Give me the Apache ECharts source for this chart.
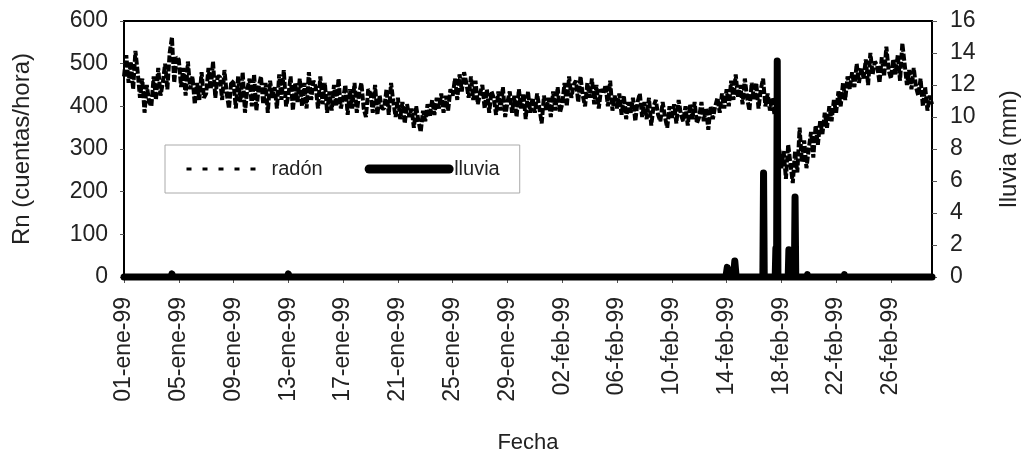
<!DOCTYPE html>
<html>
<head>
<meta charset="utf-8">
<title>Radón y lluvia</title>
<script src="https://cdn.jsdelivr.net/npm/echarts@6/dist/echarts.min.js"></script>
<style>
  html, body { margin: 0; padding: 0; background: #fff; }
  #chart { width: 1029px; height: 459px; }
</style>
</head>
<body>
<div id="chart"></div>
<script>
// radón (cuentas/hora), una lectura cada 4 horas desde 01-ene-99 (6 por fila = 1 día)
const radonStepDays = 1 / 6;
const radon = [
  470, 520, 455, 505, 440, 530,
  480, 420, 465, 385, 450, 410,
  400, 470, 415, 490, 425, 455,
  500, 440, 525, 562, 455, 515,
  510, 445, 490, 425, 505, 440,
  470, 405, 455, 415, 480, 420,
  430, 490, 440, 505, 420, 470,
  470, 415, 485, 430, 395, 460,
  455, 395, 470, 410, 480, 385,
  440, 465, 400, 475, 390, 445,
  470, 405, 455, 385, 460, 420,
  445, 395, 475, 415, 485, 400,
  425, 470, 390, 455, 410, 465,
  400, 455, 395, 480, 415, 460,
  445, 395, 470, 405, 455, 385,
  435, 390, 450, 400, 465, 395,
  420, 450, 380, 440, 395, 455,
  385, 430, 455, 395, 375, 440,
  430, 385, 450, 380, 425, 395,
  395, 440, 380, 455, 410, 375,
  420, 370, 410, 360, 405, 375,
  395, 350, 400, 365, 340, 390,
  365, 405, 375, 415, 380, 420,
  395, 430, 385, 425, 390, 440,
  425, 465, 415, 475, 435, 480,
  455, 420, 470, 415, 460, 405,
  430, 450, 395, 440, 385, 435,
  420, 380, 435, 390, 445, 375,
  410, 435, 385, 425, 375, 440,
  395, 430, 370, 435, 385, 420,
  385, 430, 395, 360, 425, 390,
  420, 375, 435, 390, 445, 385,
  405, 455, 400, 470, 420, 450,
  460, 410, 470, 425, 400, 455,
  420, 465, 405, 450, 395, 440,
  430, 450, 400, 460, 390, 425,
  395, 430, 380, 425, 370, 410,
  385, 420, 365, 410, 430, 375,
  410, 370, 420, 355, 400, 415,
  380, 365, 410, 375, 350, 400,
  370, 405, 360, 415, 380, 365,
  400, 355, 405, 370, 410, 360,
  375, 410, 365, 395, 345, 400,
  370, 400, 420, 385, 430, 395,
  440, 400, 460, 415, 475, 420,
  450, 405, 465, 420, 390, 455,
  415, 455, 395, 440, 465, 400,
  430, 390, 420, 380, 415, 300,
  255, 295, 230, 310, 265, 220,
  295, 245, 350, 270, 320, 255,
  300, 340, 280, 355, 310, 365,
  335, 385, 350, 400, 365, 415,
  385, 435, 400, 455, 415, 470,
  440, 480, 445, 500, 455, 490,
  465, 510, 450, 525, 475, 505,
  495, 455, 515, 470, 540, 485,
  465, 510, 475, 520, 460, 548,
  500, 450, 485, 440, 490, 445,
  425, 465, 400, 445, 390, 425,
  405
];

// lluvia (mm): día desde 01-ene-99 y valor
const rainDays = [0, 3.45, 3.5, 3.55, 11.95, 12.0, 12.05,
  43.95, 44.05, 44.15, 44.5, 44.6, 44.7,
  46.65, 46.7, 46.75, 47.55, 47.6, 47.65, 47.7, 47.75,
  48.5, 48.55, 48.6, 48.95, 49.0, 49.05,
  49.85, 49.9, 49.95, 52.55, 52.6, 52.65, 59];
const rainMm = [0, 0, 0.2, 0, 0, 0.2, 0,
  0, 0.6, 0, 0, 1.0, 0,
  0, 6.5, 0, 0, 1.8, 0, 13.5, 0,
  0, 1.7, 0, 0, 5.0, 0,
  0, 0.15, 0, 0, 0.15, 0, 0];

// etiquetas del eje x (cada 4 días)
const xTickLabels = ['01-ene-99', '05-ene-99', '09-ene-99', '13-ene-99', '17-ene-99',
  '21-ene-99', '25-ene-99', '29-ene-99', '02-feb-99', '06-feb-99', '10-feb-99',
  '14-feb-99', '18-feb-99', '22-feb-99', '26-feb-99'];

const FONT = "'Liberation Sans', Arial, Helvetica, sans-serif";
const chart = echarts.init(document.getElementById('chart'), null, { renderer: 'canvas' });

const radonData = radon.map((v, i) => [i * radonStepDays, v]);
const rainData = rainDays.map((d, i) => [d, rainMm[i]]);

const option = {
  animation: false,
  color: ['#000', '#000'],
  textStyle: { fontFamily: FONT, color: '#222' },
  grid: {
    left: 124, right: 97, top: 21, bottom: 182,
    outerBoundsMode: 'none',
    containLabel: false,
    show: true, borderColor: '#000', borderWidth: 2
  },
  legend: {
    left: 165, top: 145,
    orient: 'horizontal',
    padding: [14, 20, 14, 20],
    itemWidth: 80, itemHeight: 18, itemGap: 42,
    borderColor: '#aaa', borderWidth: 1,
    backgroundColor: '#fff',
    textStyle: { fontFamily: FONT, fontSize: 20, color: '#222' },
    data: [
      {
        name: 'radón',
        itemStyle: { opacity: 0 },
        lineStyle: { width: 3, type: [5, 11], color: '#000' }
      },
      {
        name: 'lluvia',
        itemStyle: { opacity: 0 },
        lineStyle: { width: 9, color: '#000', cap: 'round' }
      }
    ]
  },
  xAxis: {
    type: 'value',
    min: 0, max: 59, interval: 4,
    name: 'Fecha', nameLocation: 'middle', nameGap: 155,
    nameTextStyle: { fontFamily: FONT, fontSize: 22, color: '#222' },
    axisLine: { show: true, lineStyle: { color: '#000', width: 2 } },
    axisTick: { show: true, inside: false, length: 6, lineStyle: { color: '#555' } },
    splitLine: { show: false },
    axisLabel: {
      rotate: 90, margin: 20, fontSize: 23, color: '#222', fontFamily: FONT,
      showMaxLabel: false,
      formatter: v => xTickLabels[Math.round(v / 4)] || ''
    }
  },
  yAxis: [
    {
      type: 'value', position: 'left',
      min: 0, max: 600, interval: 100,
      name: 'Rn (cuentas/hora)', nameLocation: 'middle', nameGap: 90, nameRotate: 90,
      nameTextStyle: { fontFamily: FONT, fontSize: 24, color: '#222' },
      axisLine: { show: true, lineStyle: { color: '#000', width: 2 } },
      axisTick: { show: true, length: 4, lineStyle: { color: '#555' } },
      splitLine: { show: false },
      axisLabel: { margin: 16, fontSize: 23, color: '#222', fontFamily: FONT }
    },
    {
      type: 'value', position: 'right',
      min: 0, max: 16, interval: 2,
      name: 'lluvia (mm)', nameLocation: 'middle', nameGap: 65, nameRotate: 90,
      nameTextStyle: { fontFamily: FONT, fontSize: 24, color: '#222' },
      axisLine: { show: true, lineStyle: { color: '#000', width: 2 } },
      axisTick: { show: true, length: 5, lineStyle: { color: '#555' } },
      splitLine: { show: false },
      axisLabel: { margin: 18, fontSize: 23, color: '#222', fontFamily: FONT }
    }
  ],
  series: [
    {
      name: 'radón',
      type: 'line',
      yAxisIndex: 0,
      data: radonData,
      showSymbol: false, symbol: 'none',
      itemStyle: { color: '#000' },
      lineStyle: { color: '#000', width: 4, type: [7, 2] },
      z: 2
    },
    {
      name: 'lluvia',
      type: 'line',
      yAxisIndex: 1,
      data: rainData,
      showSymbol: false, symbol: 'none',
      clip: false,
      itemStyle: { color: '#000' },
      lineStyle: { color: '#000', width: 7, cap: 'round', join: 'round' },
      z: 3
    }
  ]
};

chart.setOption(option);
</script>
</body>
</html>
